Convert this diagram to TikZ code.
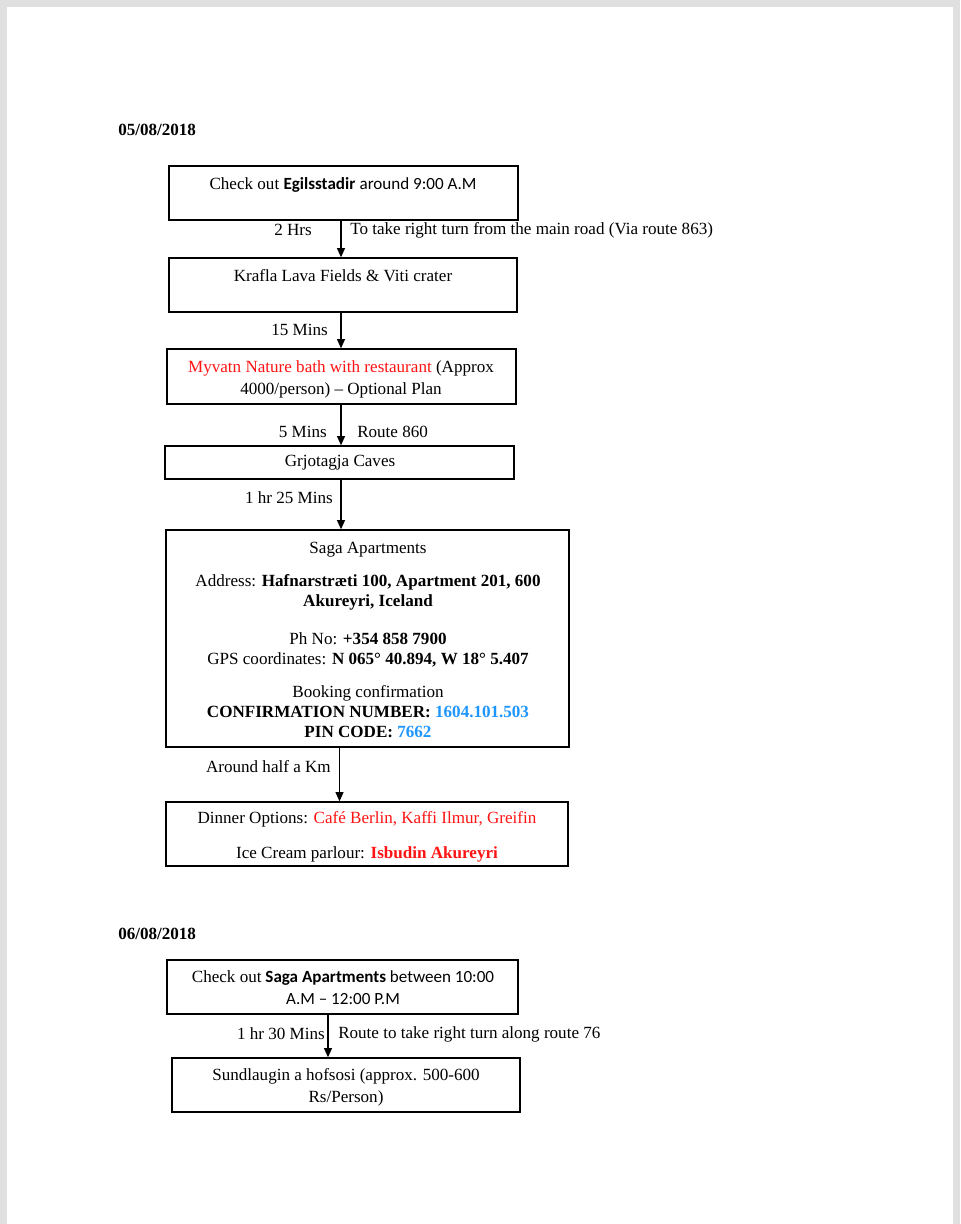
\documentclass[tikz,border=0pt]{standalone}
\usepackage{fontspec}
\setmainfont{Liberation Serif}
\newfontfamily\calfont{Carlito}
\usetikzlibrary{arrows.meta,fit}
\definecolor{tripred}{RGB}{255,20,20}
\definecolor{tripblue}{RGB}{30,150,255}
\tikzset{
  stopbox/.style={draw, line width=1pt, inner sep=0pt},
  stoptext/.style={font=\fontsize{12.8}{16.5}\selectfont, align=center, inner sep=0pt},
  hop/.style={line width=1pt, -{Triangle[width=6pt,length=7pt]}},
  hoplabel/.style={font=\fontsize{12.8}{15}\selectfont, inner sep=0pt},
  datelabel/.style={font=\bfseries\fontsize{12.8}{15}\selectfont, inner sep=0pt, anchor=west},
}

\begin{document}
\begin{tikzpicture}[x=0.75pt,y=-0.75pt]
		%%%%% START %%%%%
		\useasboundingbox (0,0) rectangle (960,1224);
		\fill[black!12] (0,0) rectangle (960,1224);
		\fill[white] (7,7) rectangle (953,1224);
		\coordinate (spine) at (341,0);
		\coordinate (spinetwo) at (328,0);

		% day one
		\node[datelabel] (dayone) at (118,130) {05/08/2018};

		\node[stopbox, fit={(169,166) (518,220)}] (egil) {};
		\node[stoptext] (egiltxt) at (343,185) {Check out {\calfont\bfseries Egilsstadir} {\calfont around 9:00 A.M}};

		\node[stopbox, fit={(169,258) (517,312)}] (krafla) {};
		\node[stoptext] (kraflatxt) at (343,276) {Krafla Lava Fields \& Viti crater};

		\node[stopbox, fit={(167,349) (516,404)}] (myvatn) {};
		\node[stoptext] (myvatntxt) at (341,379) {\textcolor{tripred}{Myvatn Nature bath with restaurant} (Approx\\4000/person) – Optional Plan};

		\node[stopbox, fit={(165,446) (514,479)}] (grjot) {};
		\node[stoptext] (grjottxt) at (340,463) {Grjotagja Caves};

		\node[stopbox, fit={(166,530) (569,747)}] (saga) {};
		\node[stoptext, font=\fontsize{12.8}{15}\selectfont] (sagatxt) at (368,640) {Saga Apartments\\[10pt]
			Address: \textbf{Hafnarstræti 100, Apartment 201, 600}\\
			\textbf{Akureyri, Iceland}\\[13pt]
			Ph No: \textbf{+354 858 7900}\\
			GPS coordinates: \textbf{N 065° 40.894, W 18° 5.407}\\[10pt]
			Booking confirmation\\
			\textbf{CONFIRMATION NUMBER: \textcolor{tripblue}{1604.101.503}}\\
			\textbf{PIN CODE: \textcolor{tripblue}{7662}}};

		\node[stopbox, fit={(166,802) (568,866)}] (dinner) {};
		\node[stoptext, font=\fontsize{12.8}{15}\selectfont] (dinnertxt) at (367,837) {Dinner Options: \textcolor{tripred}{Café Berlin, Kaffi Ilmur, Greifin}\\[11pt]
			Ice Cream parlour: \textcolor{tripred}{\textbf{Isbudin Akureyri}}};

		\draw[hop] (egil.south -| spine) -- (krafla.north -| spine);
		\draw[hop] (krafla.south -| spine) -- (myvatn.north -| spine);
		\draw[hop] (myvatn.south -| spine) -- (grjot.north -| spine);
		\draw[hop] (grjot.south -| spine) -- (saga.north -| spine);
		\draw[hop] (saga.south -| grjot) -- (dinner.north -| grjot);

		\node[hoplabel, anchor=east] (hrs) at (312,230) {2 Hrs};
		\node[hoplabel, anchor=west] (via) at (350,230) {To take right turn from the main road (Via route 863)};
		\node[hoplabel, anchor=east] (fifteen) at (328,330) {15 Mins};
		\node[hoplabel, anchor=east] (five) at (327,432) {5 Mins};
		\node[hoplabel, anchor=west] (route) at (357,432) {Route 860};
		\node[hoplabel, anchor=east] (hrtwentyfive) at (333,498) {1 hr 25 Mins};
		\node[hoplabel, anchor=east] (halfkm) at (331,767) {Around half a Km};

		% day two
		\node[datelabel] (daytwo) at (118,934) {06/08/2018};

		\node[stopbox, fit={(167,960) (518,1014)}] (sagaout) {};
		\node[stoptext, font=\calfont\fontsize{12.8}{16.5}\selectfont] (sagaouttxt) at (343,988) {{\rmfamily Check out} \textbf{Saga Apartments} between 10:00\\A.M – 12:00 P.M};

		\node[stopbox, fit={(172,1058) (520,1112)}] (sund) {};
		\node[stoptext] (sundtxt) at (346,1087) {Sundlaugin a hofsosi (approx. 500-600\\Rs/Person)};

		\draw[hop] (sagaout.south -| spinetwo) -- (sund.north -| spinetwo);

		\node[hoplabel, anchor=east] (hrthirty) at (325,1034) {1 hr 30 Mins};
		\node[hoplabel, anchor=west] (turn) at (338,1034) {Route to take right turn along route 76};
		%%%%% END %%%%%
\end{tikzpicture}
\end{document}
